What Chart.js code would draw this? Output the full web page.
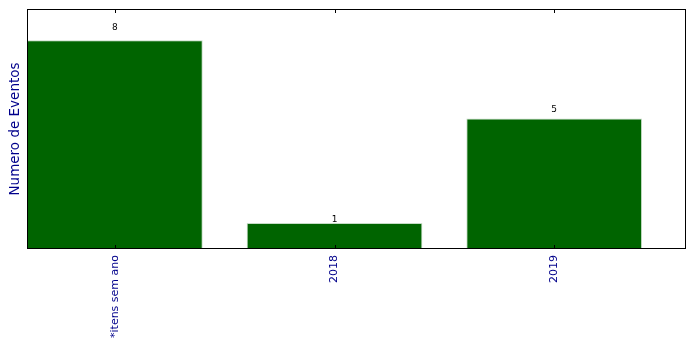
<!DOCTYPE html>
<html>
<head>
<meta charset="utf-8">
<script src="https://cdn.jsdelivr.net/npm/chart.js@4/dist/chart.umd.min.js"></script>
<style>
  html, body { margin: 0; padding: 0; background: #fff; }
  #wrap { width: 696px; height: 349px; }
</style>
</head>
<body>
<div id="wrap"><canvas id="barChart"></canvas></div>
<script>
const categories = ['*itens sem ano', '2018', '2019'];
const eventos = [8, 1, 5];
const yMax = 9.2;

const font = 'DejaVu Sans';
const blue = '#00008b';

// box round the plot + inward tick marks + value labels
const frame = {
  id: 'frame',
  afterDatasetsDraw(chart) {
    const { ctx, chartArea: a, scales } = chart;
    const x = scales.x, y = scales.y;
    ctx.save();
    ctx.strokeStyle = '#000';
    ctx.lineWidth = 1;
    ctx.strokeRect(Math.round(a.left) + 0.5, Math.round(a.top) + 0.5,
      Math.round(a.right - a.left) - 1, Math.round(a.bottom - a.top) - 1);
    ctx.beginPath();
    categories.forEach(function (c, i) {
      const px = Math.round(x.getPixelForValue(i)) + 0.5;
      ctx.moveTo(px, a.top);
      ctx.lineTo(px, a.top + 4);
      ctx.moveTo(px, a.bottom);
      ctx.lineTo(px, a.bottom - 4);
    });
    ctx.stroke();

    ctx.fillStyle = '#000';
    ctx.font = '9px "' + font + '"';
    ctx.textAlign = 'center';
    ctx.textBaseline = 'alphabetic';
    eventos.forEach(function (v, i) {
      ctx.fillText(String(v), x.getPixelForValue(i), y.getPixelForValue(v * 1.05));
    });
    ctx.restore();
  }
};

new Chart(document.getElementById('barChart'), {
  type: 'bar',
  data: {
    datasets: [{
      data: eventos.map(function (v, i) { return { x: i, y: v }; }),
      backgroundColor: '#006400',
      borderColor: '#c6dcc6',
      borderWidth: 1,
      barPercentage: 1,
      categoryPercentage: 0.8
    }]
  },
  options: {
    responsive: true,
    maintainAspectRatio: false,
    animation: false,
    layout: { padding: { top: 9, right: 10, left: 0, bottom: 0 } },
    plugins: { legend: { display: false }, tooltip: { enabled: false } },
    scales: {
      x: {
        type: 'linear',
        offset: false,
        bounds: 'data',
        min: -0.4,
        max: 2.6,
        afterBuildTicks(scale) {
          scale.ticks = categories.map(function (c, i) { return { value: i }; });
        },
        afterFit(scale) { scale.height = 100; },
        grid: { display: false, drawTicks: false, offset: false },
        border: { display: false },
        ticks: {
          autoSkip: false,
          minRotation: 90,
          maxRotation: 90,
          padding: 6,
          color: blue,
          font: { family: font, size: 11 },
          callback: function (v) { return categories[v]; }
        }
      },
      y: {
        min: 0,
        max: yMax,
        afterFit(scale) { scale.width = 27; },
        grid: { display: false, drawTicks: false },
        border: { display: false },
        ticks: { display: false },
        title: {
          display: true,
          text: 'Numero de Eventos',
          color: blue,
          padding: { top: 7, bottom: 0 },
          font: { family: font, size: 13.5 }
        }
      }
    }
  },
  plugins: [frame]
});
</script>
</body>
</html>
